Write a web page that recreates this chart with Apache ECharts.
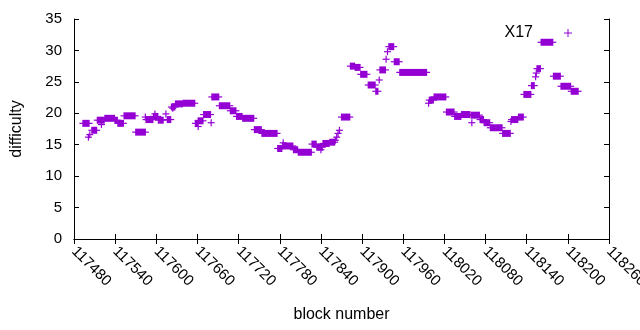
<!DOCTYPE html>
<html>
<head>
<meta charset="utf-8">
<script src="https://cdn.jsdelivr.net/npm/echarts@6/dist/echarts.min.js"></script>
<style>
html,body{margin:0;padding:0;background:#fff;}
#chart{width:640px;height:330px;}
</style>
</head>
<body>
<div id="chart"></div>
<script>
// Runs of consecutive blocks sharing one difficulty (start block, end block, difficulty)
const runStart = [117493,117501,117503,117506,117514,117520,117525,117540,117544,117553,
  117570,117584,117585,117596,117598,117603,117614,117616,117622,117624,
  117628,117639,117657,117661,117661,117669,117680,117681,117692,117708,
  117717,117726,117743,117754,117777,117784,117785,117800,117807,117827,
  117834,117840,117843,117853,117861,117863,117865,117867,117870,117883,
  117890,117898,117909,117920,117925,117926,117935,117937,117939,117947,
  117955,117997,117998,118005,118023,118035,118045,118059,118060,118072,
  118078,118087,118105,118117,118118,118128,118136,118147,118153,118154,
  118155,118161,118179,118190,118205];
const runEnd = [117502,117501,117503,117513,117524,117520,117539,117543,117552,117569,
  117584,117584,117595,117602,117598,117610,117614,117621,117627,117624,
  117638,117656,117660,117661,117668,117679,117680,117691,117707,117716,
  117725,117742,117753,117776,117783,117799,117785,117806,117826,117833,
  117842,117840,117852,117860,117861,117863,117865,117867,117882,117889,
  117897,117907,117919,117923,117925,117934,117935,117937,117946,117954,
  117994,117997,118004,118022,118034,118044,118057,118071,118060,118077,
  118086,118104,118116,118117,118127,118135,118146,118151,118153,118154,
  118160,118178,118189,118204,118215];
const difficulty = [18.4,16.2,16.6,17.3,18.9,18.2,19.2,18.9,18.4,19.6,
  17.0,19.4,19.0,19.5,19.9,18.9,19.9,19.0,21.0,20.8,
  21.5,21.6,18.4,17.9,18.8,19.8,18.5,22.6,21.2,20.4,
  19.5,19.2,17.4,16.8,14.4,14.8,15.3,14.2,13.8,15.1,
  14.6,14.2,15.2,15.4,15.7,16.2,16.8,17.3,19.4,27.5,
  27.3,26.2,24.5,23.5,25.3,26.9,28.6,29.8,30.6,28.2,
  26.5,21.6,22.1,22.6,20.2,19.5,19.8,19.7,18.5,19.0,
  18.5,17.7,16.8,18.7,19.0,19.4,23.0,24.4,25.8,26.4,
  27.1,31.3,25.9,24.3,23.5];
const seriesName = 'X17';
const xMin = 117480, xMax = 118260, xStep = 60;
const yMin = 0, yMax = 35, yStep = 5;

const COLOR = '#9400d3';
const FONT = 'Liberation Sans';
const data = runStart.map((s, i) => [s, runEnd[i], difficulty[i]]);

const chart = echarts.init(document.getElementById('chart'), null, {renderer: 'canvas'});
const axisBase = {
  axisLine: {show: true, lineStyle: {color: '#000', width: 1}},
  axisTick: {show: true, inside: true, length: 5, lineStyle: {color: '#000', width: 1}},
  splitLine: {show: false}
};
chart.setOption({
  animation: false,
  backgroundColor: '#fff',
  grid: {left: 74, right: 31, top: 19, bottom: 91, containLabel: false, outerBoundsMode: 'none'},
  legend: {
    right: 68, top: 25, padding: 0, align: 'right',
    itemWidth: 8, itemHeight: 8,
    textStyle: {fontFamily: FONT, fontSize: 16, color: '#000', padding: [0, 26, 0, 0]},
    data: [{name: seriesName, icon: 'path://M3.5,0h1v3.5h3.5v1h-3.5v3.5h-1v-3.5h-3.5v-1h3.5z'}]
  },
  xAxis: [
    Object.assign({}, axisBase, {
      type: 'value', min: xMin, max: xMax, interval: xStep, position: 'bottom',
      name: 'block number', nameLocation: 'middle', nameGap: 68,
      nameTextStyle: {fontFamily: FONT, fontSize: 16, color: '#000'},
      axisLabel: {rotate: -45, margin: 10, fontFamily: FONT, fontSize: 15, color: '#000',
        showMinLabel: true, showMaxLabel: true, formatter: v => String(v)}
    }),
    Object.assign({}, axisBase, {
      type: 'value', min: xMin, max: xMax, interval: xStep, position: 'top',
      axisLabel: {show: false}
    })
  ],
  yAxis: [
    Object.assign({}, axisBase, {
      type: 'value', min: yMin, max: yMax, interval: yStep, position: 'left',
      name: 'difficulty', nameLocation: 'middle', nameGap: 49,
      nameTextStyle: {fontFamily: FONT, fontSize: 16, color: '#000'},
      axisLabel: {margin: 12, fontFamily: FONT, fontSize: 15, color: '#000'}
    }),
    Object.assign({}, axisBase, {
      type: 'value', min: yMin, max: yMax, interval: yStep, position: 'right',
      axisLabel: {show: false}
    })
  ],
  series: [{
    name: seriesName,
    type: 'custom',
    xAxisIndex: 0, yAxisIndex: 0,
    itemStyle: {color: COLOR},
    encode: {x: [0, 1], y: 2},
    data: data,
    renderItem: function (params, api) {
      const s = api.coord([api.value(0), api.value(2)]);
      const e = api.coord([api.value(1), api.value(2)]);
      const h = 3.5;
      return {
        type: 'group',
        children: [
          {type: 'rect', shape: {x: s[0] - 0.6, y: s[1] - h, width: e[0] - s[0] + 1.2, height: 2 * h},
            style: {fill: COLOR}},
          {type: 'line', shape: {x1: s[0] - h, y1: s[1], x2: e[0] + h, y2: s[1]},
            style: {stroke: COLOR, lineWidth: 1.2}}
        ]
      };
    }
  }]
});
</script>
</body>
</html>
